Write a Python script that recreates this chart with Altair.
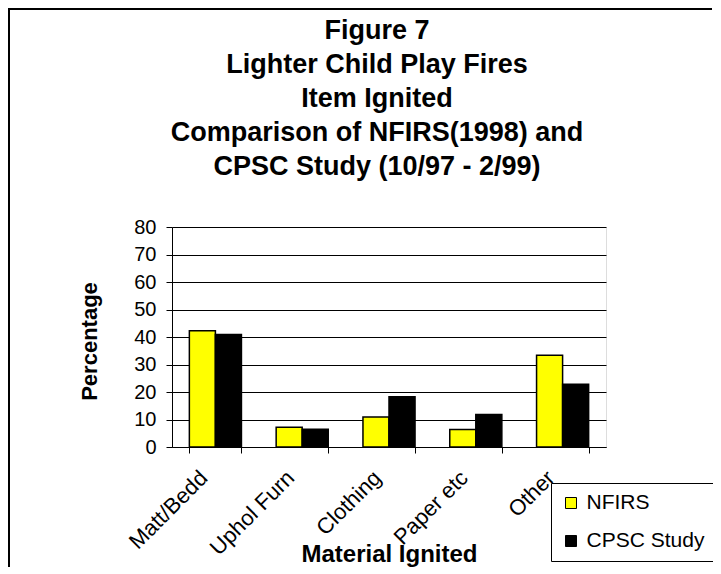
import altair as alt
import pandas as pd

categories = ["Matt/Bedd", "Uphol Furn", "Clothing", "Paper etc", "Other"]
series = ["NFIRS", "CPSC Study"]
nfirs = [42.3, 7.2, 10.9, 6.4, 33.4]
cpsc = [40.9, 6.5, 18.3, 11.8, 22.8]
colors = ["#FFFF00", "#000000"]
y_ticks = [0, 10, 20, 30, 40, 50, 60, 70, 80]
title_lines = ["Figure 7", "Lighter Child Play Fires", "Item Ignited",
               "Comparison of NFIRS(1998) and", "CPSC Study (10/97 - 2/99)"]

rows = []
for i, c in enumerate(categories):
    rows.append({"cat": c, "series": series[0], "value": nfirs[i]})
    rows.append({"cat": c, "series": series[1], "value": cpsc[i]})
df = pd.DataFrame(rows)

FONT = "Liberation Sans"
W, H = 434, 220

bars = alt.Chart(df).mark_bar(stroke="black", strokeWidth=1.5).encode(
    x=alt.X("cat:N", sort=categories,
            scale=alt.Scale(paddingInner=0.4, paddingOuter=0.2),
            axis=alt.Axis(title="Material Ignited", labelAngle=-45,
                          labelAlign="right", labelBaseline="middle",
                          labelFontSize=22, labelFont=FONT, labelColor="black",
                          labelPadding=21, labelOffset=-12,
                          tickBand="extent", tickSize=6, tickColor="black",
                          domainColor="black", grid=False,
                          titleFont=FONT, titleFontSize=24, titleFontWeight="bold",
                          titleColor="black", titleBaseline="alphabetic",
                          titleX=W / 2, titleY=114, titleAlign="center")),
    xOffset=alt.XOffset("series:N", sort=series,
                        scale=alt.Scale(paddingInner=0, paddingOuter=0)),
    y=alt.Y("value:Q", scale=alt.Scale(domain=[0, 80], nice=False),
            axis=alt.Axis(title="Percentage", values=y_ticks, labelFontSize=20,
                          labelFont=FONT, labelColor="black", labelPadding=10,
                          tickSize=6, tickColor="black", domainColor="black",
                          gridColor="black", gridOpacity=1, gridWidth=1,
                          titleFont=FONT, titleFontSize=22, titleFontWeight="bold",
                          titleColor="black", titleAngle=-90,
                          titleBaseline="middle", titleAlign="center",
                          titleX=-83, titleY=114)),
    color=alt.Color("series:N", sort=series,
                    scale=alt.Scale(domain=series, range=colors),
                    legend=alt.Legend(title=None, orient="none", legendX=379,
                                      legendY=256, strokeColor="black",
                                      fillColor="white", padding=9.5,
                                      rowPadding=16, labelFontSize=21,
                                      labelFont=FONT, labelColor="black",
                                      symbolType="square", symbolSize=121,
                                      symbolStrokeColor="black",
                                      symbolStrokeWidth=1, labelOffset=5)),
)

frame_data = alt.Data(values=[{}])
frame_top = alt.Chart(frame_data).mark_rule(stroke="black", strokeWidth=2).encode(
    x=alt.value(-164), x2=alt.value(540), y=alt.value(-218), y2=alt.value(-218))
frame_left = alt.Chart(frame_data).mark_rule(stroke="black", strokeWidth=2).encode(
    x=alt.value(-163), x2=alt.value(-163), y=alt.value(-219), y2=alt.value(340))

chart = alt.layer(bars, frame_top, frame_left).properties(
    width=W, height=H,
    autosize=alt.AutoSizeParams(type="none"),
    padding={"left": 164, "top": 219, "right": 107, "bottom": 120},
    title=alt.TitleParams(text=title_lines, font=FONT, fontSize=27,
                          fontWeight="bold", color="black", anchor="middle",
                          frame="group", baseline="top", dx=-12, offset=-174,
                          lineHeight=34),
).configure_view(stroke="black", strokeWidth=1).configure(background="white")

chart.save("out.html", embed_options={"renderer": "svg", "actions": False})
